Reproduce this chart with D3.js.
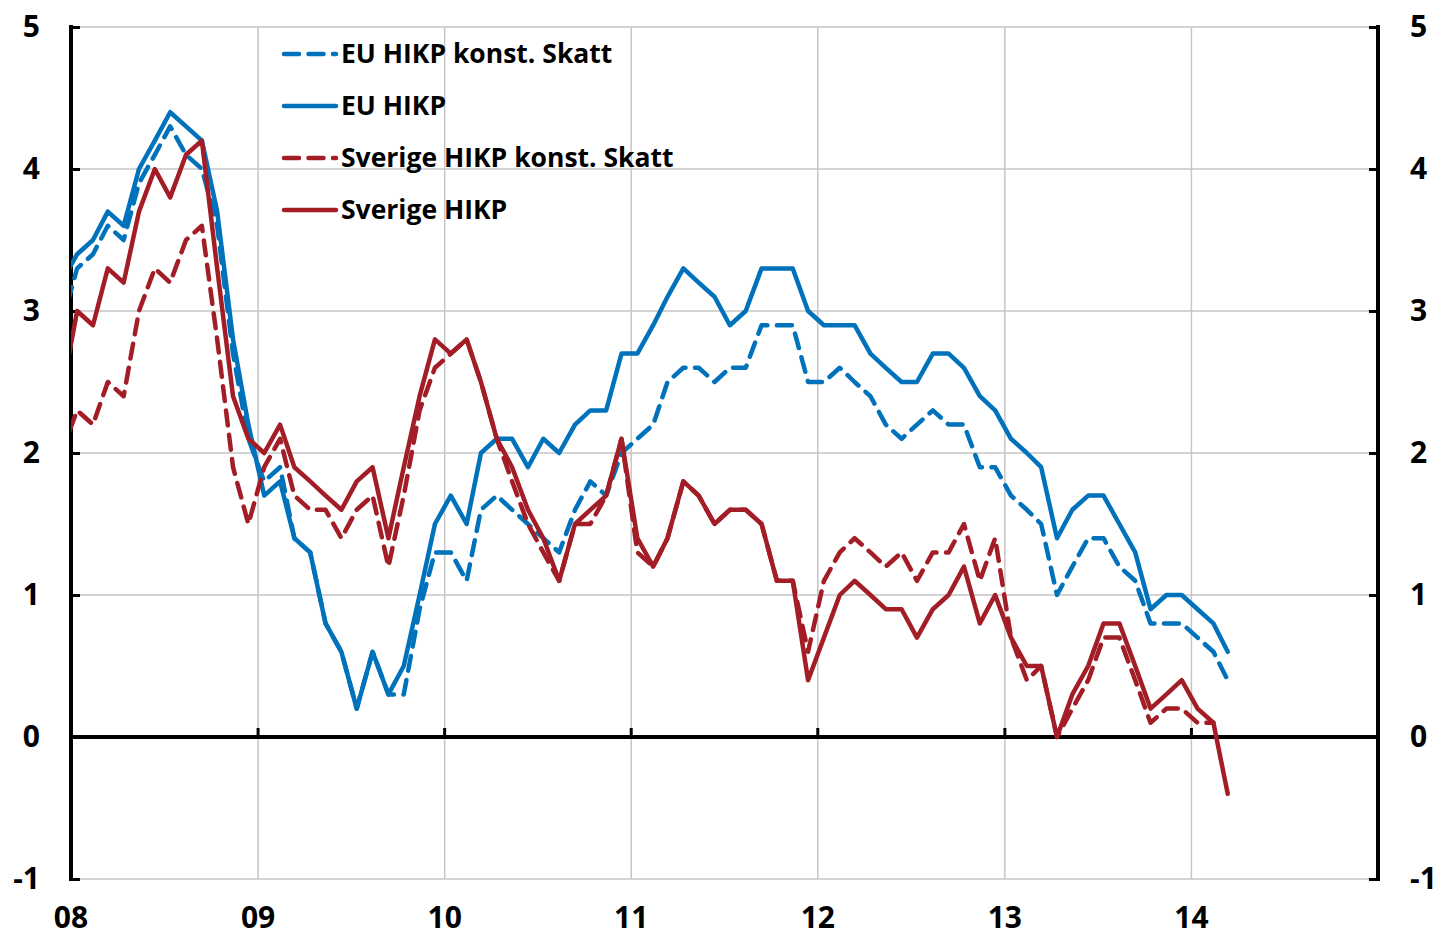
<!DOCTYPE html>
<html>
<head>
<meta charset="utf-8">
<script src="https://cdn.jsdelivr.net/npm/d3@7"></script>
<style>
body { margin: 0; background: #fff; }
text { font-family: "Open Sans", "Noto Sans", sans-serif; font-weight: bold; fill: #000; }
</style>
</head>
<body>
<script>
// months from Dec 2007 (partly clipped at the axis) to Mar 2014
var months = d3.timeMonth.range(new Date(2007, 11, 1), new Date(2014, 3, 1));

var euHikp = [3.2,
	3.4, 3.5, 3.7, 3.6, 4.0, 4.2, 4.4, 4.3, 4.2, 3.7, 2.8, 2.2,
	1.7, 1.8, 1.4, 1.3, 0.8, 0.6, 0.2, 0.6, 0.3, 0.5, 1.0, 1.5,
	1.7, 1.5, 2.0, 2.1, 2.1, 1.9, 2.1, 2.0, 2.2, 2.3, 2.3, 2.7,
	2.7, 2.9, 3.1, 3.3, 3.2, 3.1, 2.9, 3.0, 3.3, 3.3, 3.3, 3.0,
	2.9, 2.9, 2.9, 2.7, 2.6, 2.5, 2.5, 2.7, 2.7, 2.6, 2.4, 2.3,
	2.1, 2.0, 1.9, 1.4, 1.6, 1.7, 1.7, 1.5, 1.3, 0.9, 1.0, 1.0,
	0.9, 0.8, 0.6];

var euKonst = [2.9,
	3.3, 3.4, 3.6, 3.5, 3.9, 4.1, 4.3, 4.1, 4.0, 3.6, 2.7, 2.1,
	1.8, 1.9, 1.4, 1.3, 0.8, 0.6, 0.2, 0.6, 0.3, 0.3, 0.9, 1.3,
	1.3, 1.1, 1.6, 1.7, 1.6, 1.5, 1.4, 1.3, 1.6, 1.8, 1.7, 2.0,
	2.1, 2.2, 2.5, 2.6, 2.6, 2.5, 2.6, 2.6, 2.9, 2.9, 2.9, 2.5,
	2.5, 2.6, 2.5, 2.4, 2.2, 2.1, 2.2, 2.3, 2.2, 2.2, 1.9, 1.9,
	1.7, 1.6, 1.5, 1.0, 1.2, 1.4, 1.4, 1.2, 1.1, 0.8, 0.8, 0.8,
	0.7, 0.6, 0.4];

var seHikp = [2.4,
	3.0, 2.9, 3.3, 3.2, 3.7, 4.0, 3.8, 4.1, 4.2, 3.3, 2.4, 2.1,
	2.0, 2.2, 1.9, 1.8, 1.7, 1.6, 1.8, 1.9, 1.4, 1.9, 2.4, 2.8,
	2.7, 2.8, 2.5, 2.1, 1.9, 1.6, 1.4, 1.1, 1.5, 1.6, 1.7, 2.1,
	1.4, 1.2, 1.4, 1.8, 1.7, 1.5, 1.6, 1.6, 1.5, 1.1, 1.1, 0.4,
	0.7, 1.0, 1.1, 1.0, 0.9, 0.9, 0.7, 0.9, 1.0, 1.2, 0.8, 1.0,
	0.7, 0.5, 0.5, 0.0, 0.3, 0.5, 0.8, 0.8, 0.5, 0.2, 0.3, 0.4,
	0.2, 0.1, -0.4];

var seKonst = [2.0,
	2.3, 2.2, 2.5, 2.4, 3.0, 3.3, 3.2, 3.5, 3.6, 2.8, 1.9, 1.5,
	1.9, 2.1, 1.7, 1.6, 1.6, 1.4, 1.6, 1.7, 1.2, 1.7, 2.3, 2.6,
	2.7, 2.8, 2.5, 2.1, 1.8, 1.5, 1.3, 1.1, 1.5, 1.5, 1.7, 2.1,
	1.3, 1.2, 1.4, 1.8, 1.7, 1.5, 1.6, 1.6, 1.5, 1.1, 1.1, 0.6,
	1.1, 1.3, 1.4, 1.3, 1.2, 1.3, 1.1, 1.3, 1.3, 1.5, 1.1, 1.4,
	0.7, 0.4, 0.5, 0.0, 0.2, 0.4, 0.7, 0.7, 0.4, 0.1, 0.2, 0.2,
	0.1, 0.1, null];

var seriesNames = ["EU HIKP konst. Skatt", "EU HIKP", "Sverige HIKP konst. Skatt", "Sverige HIKP"];
var seriesValues = [euKonst, euHikp, seKonst, seHikp];
var seriesColors = ["#0072BC", "#0072BC", "#A21D26", "#A21D26"];
var seriesDashed = [true, false, true, false];

var yTicks = [-1, 0, 1, 2, 3, 4, 5];
var yearTicks = [2008, 2009, 2010, 2011, 2012, 2013, 2014, 2015];
var yearLabels = ["08", "09", "10", "11", "12", "13", "14"];

var svg = d3.select("body").append("svg").attr("width", 1437).attr("height", 933);

//plot box
var plotLeft = 71, plotRight = 1378, plotTop = 27, plotBottom = 879;

var x = d3.scaleTime().domain([new Date(2008, 0, 1), new Date(2015, 0, 1)]).range([plotLeft, plotRight]);
var y = d3.scaleLinear().domain([-1, 5]).range([plotBottom, plotTop]);

//points sit a little into each month
function px(m) { return x(d3.timeDay.offset(m, 12)); }

var gridColor = "#c6c6c6";
var lineWidth = 4.5;
var dashPattern = "15,9.5";

//horizontal gridlines
svg.append("g").selectAll("line").data(yTicks).enter().append("line")
	.attr("x1", plotLeft).attr("x2", plotRight)
	.attr("y1", function(d) { return y(d); }).attr("y2", function(d) { return y(d); })
	.style("stroke", gridColor).style("stroke-width", 1.5);

//vertical gridlines at each year
svg.append("g").selectAll("line").data(yearTicks.slice(1, 7)).enter().append("line")
	.attr("x1", function(d) { return x(new Date(d, 0, 1)); })
	.attr("x2", function(d) { return x(new Date(d, 0, 1)); })
	.attr("y1", plotTop).attr("y2", plotBottom)
	.style("stroke", gridColor).style("stroke-width", 1.5);

//zero line with small year ticks
svg.append("line").attr("x1", plotLeft).attr("x2", plotRight).attr("y1", y(0)).attr("y2", y(0))
	.style("stroke", "#000").style("stroke-width", 4);
svg.append("g").selectAll("line").data(yearTicks.slice(1, 7)).enter().append("line")
	.attr("x1", function(d) { return x(new Date(d, 0, 1)); })
	.attr("x2", function(d) { return x(new Date(d, 0, 1)); })
	.attr("y1", y(0) - 9).attr("y2", y(0))
	.style("stroke", "#000").style("stroke-width", 3);

//left and right axes (plain hyphen for the minus sign)
var tickFmt = function(d) { return String(d); };
var yAxisLeft = d3.axisLeft(y).tickValues(yTicks).tickSize(-9).tickPadding(31).tickFormat(tickFmt);
var yAxisRight = d3.axisRight(y).tickValues(yTicks).tickSize(-9).tickPadding(32).tickFormat(tickFmt);

function styleAxis(g) {
	g.select(".domain").remove();
	g.selectAll(".tick line").style("stroke", "#000").style("stroke-width", 3);
	g.selectAll(".tick text").style("font-size", "30px");
}

svg.append("g").attr("transform", "translate(" + plotLeft + ",0)").call(yAxisLeft).call(styleAxis);
svg.append("g").attr("transform", "translate(" + plotRight + ",0)").call(yAxisRight).call(styleAxis);

svg.append("line").attr("x1", plotLeft).attr("x2", plotLeft).attr("y1", plotTop - 2).attr("y2", plotBottom + 2)
	.style("stroke", "#000").style("stroke-width", 4);
svg.append("line").attr("x1", plotRight).attr("x2", plotRight).attr("y1", plotTop - 2).attr("y2", plotBottom + 2)
	.style("stroke", "#000").style("stroke-width", 4);

//year labels under the plot
svg.append("g").selectAll("text").data(yearLabels).enter().append("text")
	.attr("x", function(d, i) { return x(new Date(yearTicks[i], 0, 1)); })
	.attr("y", 928)
	.attr("text-anchor", "middle")
	.style("font-size", "30px")
	.text(function(d) { return d; });

//series lines
svg.append("clipPath").attr("id", "plotclip").append("rect")
	.attr("x", plotLeft).attr("y", 0).attr("width", plotRight - plotLeft).attr("height", 933);

var lineGen = d3.line()
	.defined(function(d) { return d.v != null; })
	.x(function(d) { return px(d.m); })
	.y(function(d) { return y(d.v); });

var lines = svg.append("g").attr("clip-path", "url(#plotclip)");
seriesValues.forEach(function(vals, s) {
	var pts = months.map(function(m, i) { return { m: m, v: vals[i] }; });
	lines.append("path").datum(pts)
		.attr("d", lineGen)
		.style("fill", "none")
		.style("stroke", seriesColors[s])
		.style("stroke-width", lineWidth)
		.style("stroke-linejoin", "round")
		.style("stroke-linecap", "round")
		.style("stroke-dasharray", seriesDashed[s] ? dashPattern : null);
});

//legend
var legendX = 284, legendTop = 54, legendStep = 52;
var legend = svg.append("g").selectAll("g").data(seriesNames).enter().append("g")
	.attr("transform", function(d, i) { return "translate(" + legendX + "," + (legendTop + i * legendStep) + ")"; });
legend.append("line").attr("x1", 0).attr("x2", 52).attr("y1", 0).attr("y2", 0)
	.style("stroke", function(d, i) { return seriesColors[i]; })
	.style("stroke-width", lineWidth)
	.style("stroke-linecap", "round")
	.style("stroke-dasharray", function(d, i) { return seriesDashed[i] ? dashPattern : null; });
legend.append("text").attr("x", 57).attr("y", 9)
	.style("font-size", "26.5px")
	.text(function(d) { return d; });
</script>
</body>
</html>
